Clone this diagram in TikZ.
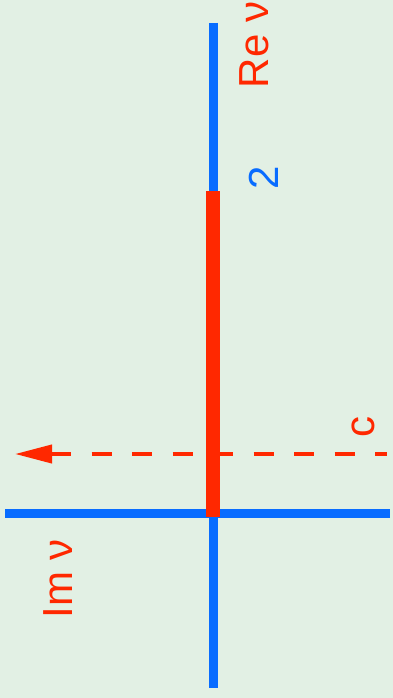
\documentclass[tikz,border=0pt]{standalone}
\usepackage{fontspec}
\setmainfont{Liberation Sans}
\usetikzlibrary{arrows.meta}
\definecolor{bggreen}{RGB}{226,240,228}
\definecolor{axblue}{RGB}{8,108,255}
\definecolor{axred}{RGB}{255,40,0}
\begin{document}
\begin{tikzpicture}[x=1pt,y=-1pt,
  axis/.style={draw=axblue,line width=9pt},
  cut/.style={draw=axred,line width=14pt},
  contour/.style={draw=axred,line width=4pt,dash pattern=on 20pt off 20.5pt,{Triangle[length=37pt,width=18pt]}-},
  lbl/.style={rotate=90,anchor=base,inner sep=0pt,font=\fontsize{42}{50}\selectfont}]
\fill[bggreen] (0,0) rectangle (393,698);
\useasboundingbox (0,0) rectangle (393,698);
\coordinate (vT) at (213,23);
\coordinate (vB) at (213,688);
\coordinate (hL) at (5,513.5);
\coordinate (hR) at (390,513.5);
\coordinate (rT) at (213,191);
\coordinate (rB) at (213,517);
\coordinate (cL) at (15,454);
\coordinate (cR) at (387,454);
\draw[axis] (vT) -- (vB);
\draw[axis] (hL) -- (hR);
\draw[cut] (rT) -- (rB);
\draw[contour] (cL) -- (cR);
\node[lbl,text=axred] (re) at (268,45) {Re ν};
\node[lbl,text=axblue] (two) at (278,178) {2};
\node[lbl,text=axred] (c) at (374,427) {c};
\node[lbl,text=axred] (im) at (72,579) {Im ν};
\end{tikzpicture}
\end{document}
